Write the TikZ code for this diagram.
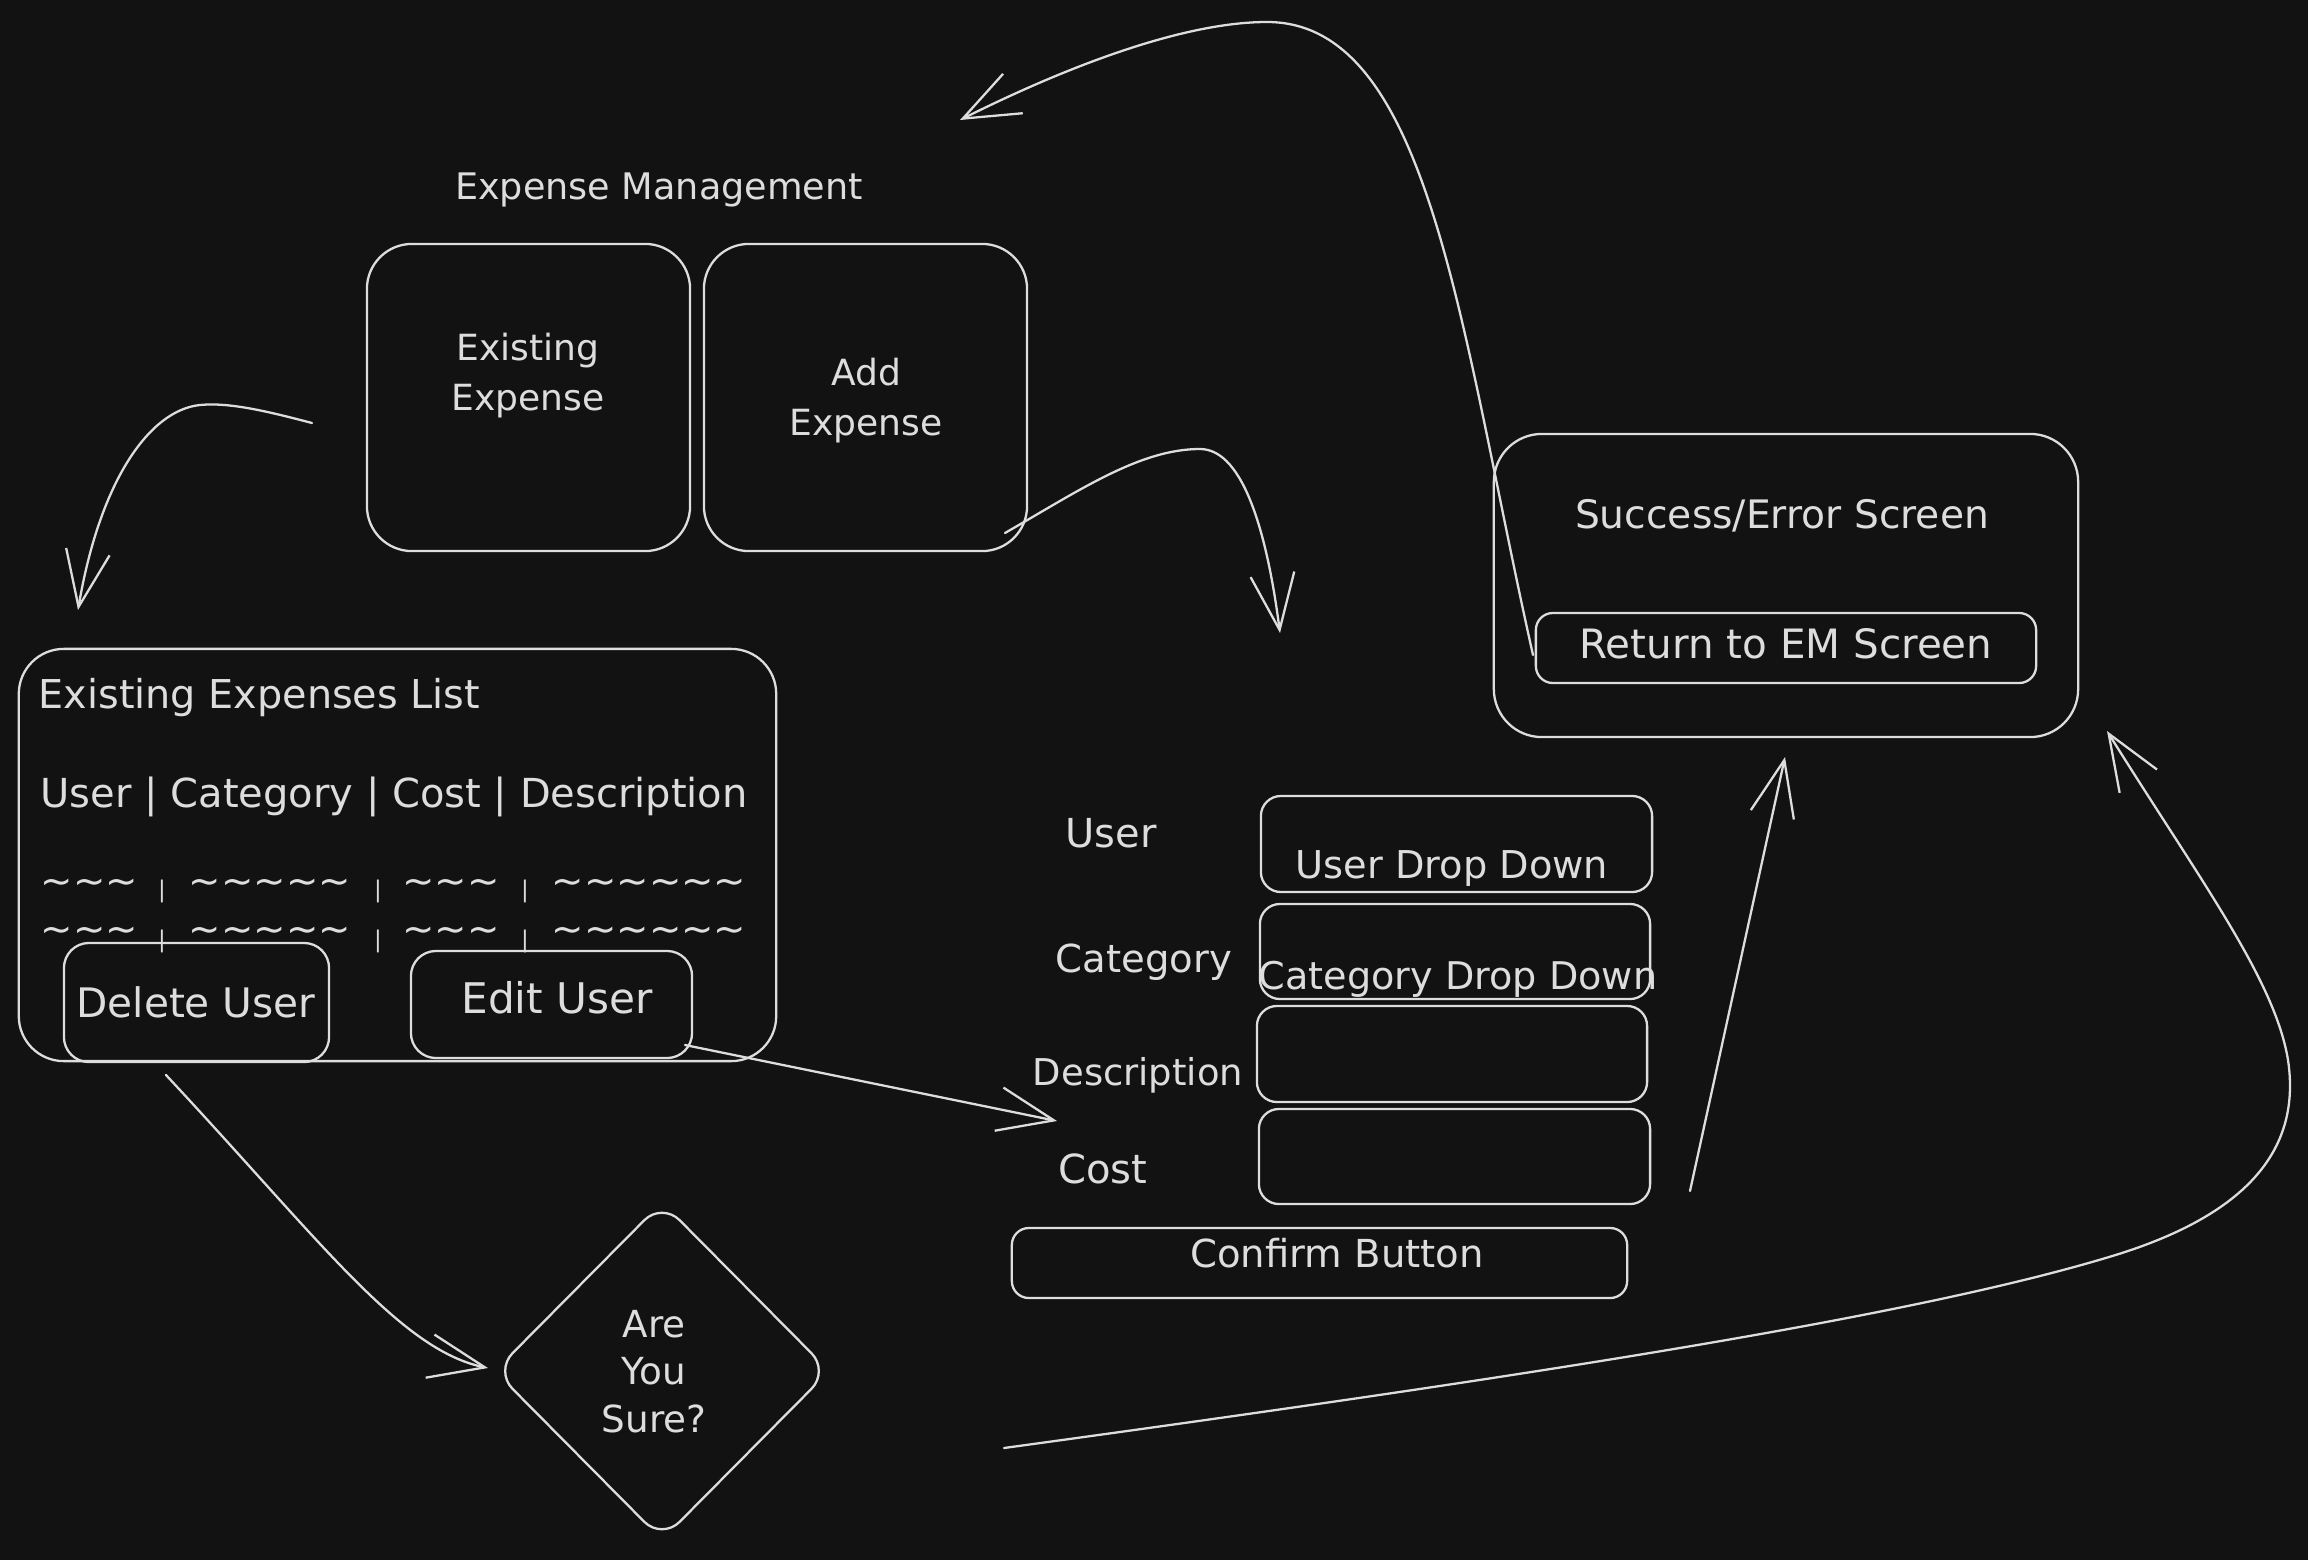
\documentclass[tikz,border=0pt]{standalone}
\usepackage{fontspec}
\setmainfont{DejaVu Sans}
\usetikzlibrary{arrows.meta,shapes.geometric}
\definecolor{bg}{HTML}{121212}
\definecolor{fg}{HTML}{DDDDDD}
\begin{document}
\begin{tikzpicture}[x=0.01cm,y=-0.01cm,
  box/.style={draw=fg,line width=0.65pt,inner sep=0pt},
  txt/.style={text=fg,inner sep=0pt,anchor=base},
  arr/.style={draw=fg,line width=0.65pt,line cap=round,-{Straight Barb[length=5.6mm,width=4.4mm]}}]
\fill[bg] (0,0) rectangle (2308,1560);
\useasboundingbox (0,0) rectangle (2308,1560);

% ---------- boxes ----------
\node[box,rounded corners=4.5mm,minimum width=3.23cm,minimum height=3.07cm] (ee) at (528.5,397.5) {};
\node[box,rounded corners=4.5mm,minimum width=3.23cm,minimum height=3.07cm] (ae) at (865.5,397.5) {};
\node[box,rounded corners=4.5mm,minimum width=7.57cm,minimum height=4.12cm] (list) at (397.5,855) {};
\node[box,rounded corners=2.5mm,minimum width=2.65cm,minimum height=1.19cm] (del) at (196.5,1002.5) {};
\node[box,rounded corners=2.5mm,minimum width=2.81cm,minimum height=1.07cm] (edit) at (551.5,1004.5) {};
\node[box,rounded corners=2mm,minimum width=3.91cm,minimum height=0.96cm] (userdd) at (1456.5,844) {};
\node[box,rounded corners=2mm,minimum width=3.90cm,minimum height=0.95cm] (catdd) at (1455,951.5) {};
\node[box,rounded corners=2mm,minimum width=3.90cm,minimum height=0.96cm] (descbox) at (1452,1054) {};
\node[box,rounded corners=2mm,minimum width=3.91cm,minimum height=0.95cm] (costbox) at (1454.5,1156.5) {};
\node[box,rounded corners=1.7mm,minimum width=6.15cm,minimum height=0.70cm] (confirm) at (1319.5,1263) {};
\node[box,rounded corners=4.8mm,minimum width=5.84cm,minimum height=3.03cm] (success) at (1786,585.5) {};
\node[box,rounded corners=1.7mm,minimum width=5.00cm,minimum height=0.70cm] (ret) at (1786,648) {};
\node[box,diamond,rounded corners=2.5mm,minimum width=3.35cm,minimum height=3.38cm] (sure) at (662,1371) {};
\node[txt,align=center,font=\fontsize{10.6pt}{13.4pt}\selectfont] (suret) at (654,1432) {Are\\You\\Sure?};

% ---------- texts ----------
\node[txt,font=\fontsize{10.4pt}{14.2pt}\selectfont] (title) at (659,199) {Expense Management};
\node[txt,align=center,font=\fontsize{10.25pt}{14.2pt}\selectfont] (eet) at (528,410) {Existing\\Expense};
\node[txt,align=center,font=\fontsize{10.25pt}{14.2pt}\selectfont] (aet) at (866,435) {Add\\Expense};
\node[txt,anchor=base west,font=\fontsize{11.3pt}{14pt}\selectfont] (listt) at (38,708) {Existing Expenses List};
\node[txt,anchor=base west,font=\fontsize{11.37pt}{14pt}\selectfont] (head) at (40,807) {User | Category | Cost | Description};
% tilde rows
\foreach \r/\yb/\yc in {1/894/891, 2/942/941}{
  \node[txt,font=\fontsize{11pt}{14pt}\selectfont] (t\r a) at (89.5,\yb) {\char"7E\char"7E\char"7E};
  \node[txt,font=\fontsize{11pt}{14pt}\selectfont] (t\r b) at (270,\yb) {\char"7E\char"7E\char"7E\char"7E\char"7E};
  \node[txt,font=\fontsize{11pt}{14pt}\selectfont] (t\r c) at (451,\yb) {\char"7E\char"7E\char"7E};
  \node[txt,font=\fontsize{11pt}{14pt}\selectfont] (t\r d) at (649,\yb) {\char"7E\char"7E\char"7E\char"7E\char"7E\char"7E};
  \node[txt,anchor=center,font=\fontsize{6.5pt}{8pt}\selectfont] (b\r a) at (162,\yc) {|};
  \node[txt,anchor=center,font=\fontsize{6.5pt}{8pt}\selectfont] (b\r b) at (378,\yc) {|};
  \node[txt,anchor=center,font=\fontsize{6.5pt}{8pt}\selectfont] (b\r c) at (525,\yc) {|};
}
\node[txt,font=\fontsize{11.56pt}{14pt}\selectfont] (delt) at (196,1017) {Delete User};
\node[txt,font=\fontsize{12pt}{14pt}\selectfont] (editt) at (557,1013) {Edit User};
\node[txt,font=\fontsize{11.36pt}{14pt}\selectfont] (userl) at (1111,847) {User};
\node[txt,font=\fontsize{10.9pt}{14pt}\selectfont] (userddt) at (1452,878) {User Drop Down};
\node[txt,font=\fontsize{10.96pt}{14pt}\selectfont] (catl) at (1144,972) {Category};
\node[txt,font=\fontsize{10.85pt}{14pt}\selectfont] (catddt) at (1458,989) {Category Drop Down};
\node[txt,font=\fontsize{10.5pt}{14pt}\selectfont] (descl) at (1138,1085) {Description};
\node[txt,font=\fontsize{11.4pt}{14pt}\selectfont] (costl) at (1103,1183) {Cost};
\node[txt,font=\fontsize{10.97pt}{14pt}\selectfont] (confirmt) at (1337,1267) {Confirm Button};
\node[txt,font=\fontsize{11.15pt}{14pt}\selectfont] (successt) at (1782,528) {Success/Error Screen};
\node[txt,font=\fontsize{11.5pt}{14pt}\selectfont] (rett) at (1786,658) {Return to EM Screen};

% ---------- connector end points ----------
\coordinate (a1s) at (312,423);   \coordinate (a1e) at (78,610);
\coordinate (a2s) at (1005,533);  \coordinate (a2e) at (1280,633);
\coordinate (a3s) at (685,1045);  \coordinate (a3e) at (1057,1121);
\coordinate (a4s) at (166,1075);  \coordinate (a4e) at (488,1368);
\coordinate (a5s) at (1690,1191); \coordinate (a5e) at (1785,757);
\coordinate (a6s) at (1004,1448); \coordinate (a6e) at (2107,731);
\coordinate (a7s) at (1533,655);  \coordinate (a7e) at (960,120);

% ---------- connectors ----------
\draw[arr] (a1s) .. controls (270,412) and (230,402) .. (200,405)
               .. controls (150,410) and (100,480) .. (a1e);
\draw[arr] (a2s) .. controls (1080,490) and (1140,449) .. (1200,449)
               .. controls (1245,449) and (1268,540) .. (a2e);
\draw[arr] (a3s) -- (a3e);
\draw[arr] (a4s) .. controls (320,1240) and (400,1350) .. (a4e);
\draw[arr] (a5s) -- (a5e);
\draw[arr] (a6s) .. controls (1500,1380) and (1900,1320) .. (2109,1257)
               .. controls (2260,1212) and (2300,1140) .. (2288,1060)
               .. controls (2275,980) and (2200,880) .. (a6e);
\draw[arr] (a7s) .. controls (1460,330) and (1430,22) .. (1267,22)
               .. controls (1180,22) and (1060,70) .. (a7e);
\end{tikzpicture}
\end{document}
